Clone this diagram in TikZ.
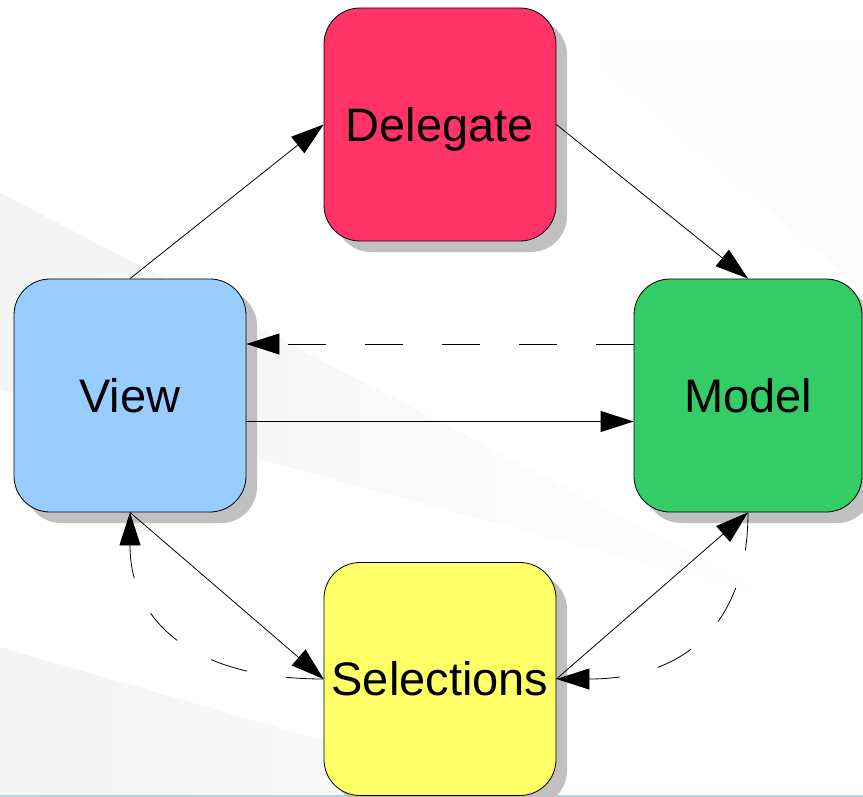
\documentclass[tikz,border=0pt]{standalone}
\usepackage{fontspec}
\setmainfont{Liberation Sans}
\usetikzlibrary{arrows.meta,shadows}
\definecolor{delred}{HTML}{FF3366}
\definecolor{viewblue}{HTML}{99CCFF}
\definecolor{modelgreen}{HTML}{33CC66}
\definecolor{selyellow}{HTML}{FFFF66}
\definecolor{shadowgray}{HTML}{C0C0C0}
\definecolor{bgA}{HTML}{F3F3F3}
\definecolor{bgB}{HTML}{F4F4F4}
\definecolor{bgC}{HTML}{FBFBFB}
\definecolor{bottomline}{HTML}{ADD8E6}
\begin{document}
\begin{tikzpicture}[x=1pt,y=-1pt,
  box/.style={draw=black, line width=0.8pt, rounded corners=36pt,
    minimum width=232pt, minimum height=233pt, inner sep=0pt,
    text height=33.6pt, text depth=0pt,
    font=\fontsize{47}{56}\selectfont,
    drop shadow={shadow xshift=11pt, shadow yshift=-11pt, fill=shadowgray, opacity=1}},
  conn/.style={line width=0.8pt, -{Triangle[length=33pt,width=21pt]}},
  dashedconn/.style={conn, dash pattern=on 38pt off 39pt}]
\useasboundingbox (0,0) rectangle (863,797);
% background
\fill[white] (0,0) rectangle (863,797);
\shade[left color=bgA, right color=white] (0,193) -- (784,601) -- (0,389) -- cycle;
\shade[left color=bgB, right color=bgB!40!white] (0,647) -- (517,797) -- (0,797) -- cycle;
\shade[left color=white, right color=bgC] (567,40) -- (863,40) -- (863,290) -- cycle;
\fill[bottomline] (0,794.5) rectangle (863,797);
% nodes
\node[box, fill=delred] (delegate) at (440,124.5) {Delegate};
\node[box, fill=viewblue] (view) at (130,395.5) {View};
\node[box, fill=modelgreen, minimum width=228pt] (model) at (748,395.5) {Model};
\node[box, fill=selyellow] (sel) at (440,679) {Selections};
% connectors
\draw[conn] (view.north) -- (delegate.west);
\draw[conn] (delegate.east) -- (model.north);
\draw[dashedconn] ([yshift=51.5pt]model.west) -- ([yshift=51.5pt]view.east);
\draw[conn] ([yshift=-26pt]view.east) -- ([yshift=-26pt]model.west);
\draw[conn] (view.south) -- (sel.west);
\draw[conn] (sel.east) -- (model.south);
\draw[dashedconn] (sel.west) .. controls +(-130,0) and +(0,110) .. (view.south);
\draw[dashedconn] (model.south) .. controls +(0,110) and +(130,0) .. (sel.east);
\end{tikzpicture}
\end{document}
